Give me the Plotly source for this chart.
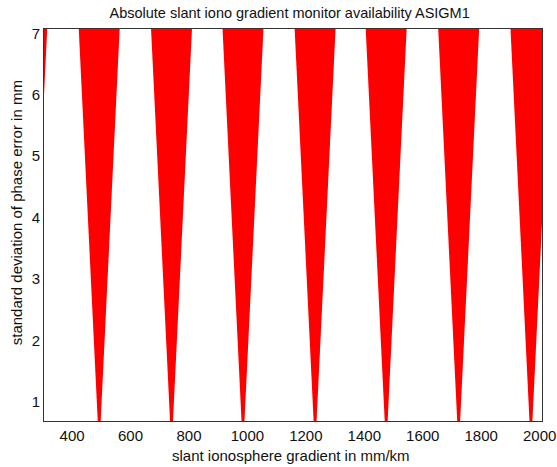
import plotly.graph_objects as go

# Data
wedge_centers = [245, 492.9, 740.3, 984.9, 1231.6, 1474.8, 1722.9, 1970.2]  # mm/km
wedge_y = [0.69, 2.66, 4.85, 7.07]          # std of phase error (mm)
wedge_halfwidth = [5.0, 25.6, 47.8, 70.0]   # half width in mm/km at each y

x_ticks = [400, 600, 800, 1000, 1200, 1400, 1600, 1800, 2000]
y_ticks = [1, 2, 3, 4, 5, 6, 7]

fig = go.Figure()
for c in wedge_centers:
    xs = [c - h for h in wedge_halfwidth] + [c + h for h in reversed(wedge_halfwidth)]
    ys = list(wedge_y) + list(reversed(wedge_y))
    fig.add_trace(go.Scatter(x=xs, y=ys, mode="lines", fill="toself",
                             fillcolor="#ff0000", line=dict(width=0, color="#ff0000"),
                             hoverinfo="skip", showlegend=False))

fam = "Liberation Sans, Arial, sans-serif"
txt = "#111111"
fig.update_layout(
    width=557, height=467,
    margin=dict(l=44, r=15, t=29, b=46, autoexpand=False),
    paper_bgcolor="white", plot_bgcolor="white",
    font=dict(family=fam, size=15, color=txt),
    title=dict(text="Absolute slant iono gradient monitor availability ASIGM1",
               x=0.52, xanchor="center", y=1 - 13 / 467, yanchor="middle",
               font=dict(size=14.5, color=txt)),
    xaxis=dict(range=[304, 2008], tickvals=x_ticks, showgrid=False, zeroline=False,
               showline=True, mirror=True, linecolor="#333333", linewidth=1,
               ticks="", ticklen=0, automargin=False, ticklabelstandoff=1,
               ticklabeloverflow="allow",
               tickfont=dict(size=15, color=txt)),
    yaxis=dict(range=[0.69, 7.07], tickvals=y_ticks, showgrid=False, zeroline=False,
               showline=True, mirror=True, linecolor="#333333", linewidth=1,
               ticks="", ticklen=0, automargin=False,
               tickfont=dict(size=15, color=txt)),
    annotations=[
        dict(text="slant ionosphere gradient in mm/km", xref="paper", yref="paper",
             x=0.496, y=0, xanchor="center", yanchor="middle", yshift=-34,
             showarrow=False, font=dict(size=15, color=txt)),
        dict(text="standard deviation of phase error in mm", xref="paper", yref="paper",
             x=0, y=0.53, xanchor="center", yanchor="middle", xshift=-28, textangle=-90,
             showarrow=False, font=dict(size=15, color=txt)),
    ],
)
fig.write_html("out.html", config={"displayModeBar": False},
               post_script="document.body.style.margin='0';")
